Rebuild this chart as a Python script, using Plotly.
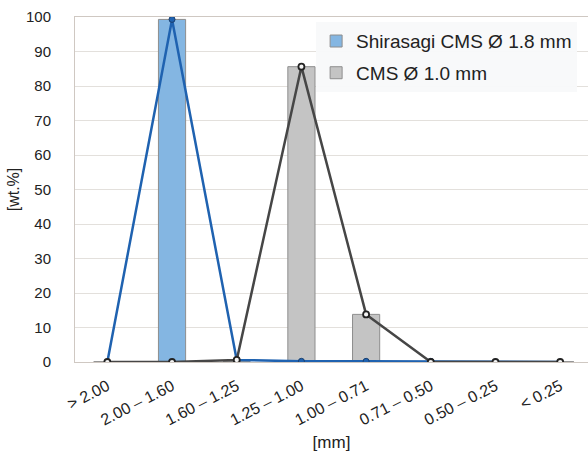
import plotly.graph_objects as go

categories = ["> 2.00", "2.00 – 1.60", "1.60 – 1.25", "1.25 – 1.00",
              "1.00 – 0.71", "0.71 – 0.50", "0.50 – 0.25", "< 0.25"]
shirasagi_bar = [0, 99.3, 0, 0, 0, 0, 0, 0]
cms10_bar = [0, 0, 0, 85.6, 13.8, 0, 0, 0]
shirasagi_line = [0, 99.3, 0.6, 0.2, 0.2, 0.2, 0, 0]
cms10_line = [0, 0, 0.6, 85.6, 13.8, 0, 0, 0]
y_ticks = [0, 10, 20, 30, 40, 50, 60, 70, 80, 90, 100]

xs = list(range(len(categories)))
font = "Liberation Sans, Arial, sans-serif"

fig = go.Figure()
fig.add_trace(go.Bar(x=xs, y=shirasagi_bar, name="Shirasagi CMS Ø 1.8 mm", legendgroup="a",
                     marker=dict(color="#84b6e2", line=dict(color="#8e8e8e", width=1)),
                     width=0.42, offset=-0.21))
fig.add_trace(go.Bar(x=xs, y=cms10_bar, name="CMS Ø 1.0 mm", legendgroup="b",
                     marker=dict(color="#c4c4c4", line=dict(color="#8e8e8e", width=1)),
                     width=0.42, offset=-0.21))
fig.add_trace(go.Scatter(x=xs, y=shirasagi_line, mode="lines+markers", showlegend=False,
                         line=dict(color="#1f62b0", width=2.5),
                         marker=dict(size=6, color="#1f62b0", line=dict(color="#1a3f6e", width=1))))
fig.add_trace(go.Scatter(x=xs, y=cms10_line, mode="lines+markers", showlegend=False,
                         line=dict(color="#464646", width=2.5),
                         marker=dict(size=6, color="#f4f4f4", line=dict(color="#222222", width=1.8))))

fig.update_layout(
    width=588, height=452,
    margin=dict(l=75, r=0, t=17, b=90, autoexpand=False),
    paper_bgcolor="white", plot_bgcolor="white",
    barmode="overlay",
    font=dict(family=font, size=16, color="#222222"),
    legend=dict(x=0.47, y=0.985, xanchor="left", yanchor="top",
                bgcolor="rgba(248,249,250,0.95)", font=dict(size=19, color="#222222"),
                itemwidth=30, tracegroupgap=4),
    xaxis=dict(tickmode="array", tickvals=xs, ticktext=categories, tickangle=-27,
               range=[-0.5, 7.43], showgrid=False, zeroline=False,
               showline=True, linecolor="#cfc8c2", mirror=True,
               tickfont=dict(size=16), ticks="", automargin=False,
               ticklabelstandoff=8,
               title=dict(text="[mm]", font=dict(size=17), standoff=14)),
    yaxis=dict(range=[0, 100], tickvals=y_ticks, showgrid=True, gridcolor="#e3e0dc",
               zeroline=False, showline=True, linecolor="#cfc8c2", mirror=False,
               tickfont=dict(size=15), ticks="", automargin=False,
               ticklabelstandoff=20,
               title=dict(text="[wt.%]", font=dict(size=16), standoff=2)),
)

fig.write_html("out.html", config={"displayModeBar": False},
               post_script="document.body.style.margin='0';")
